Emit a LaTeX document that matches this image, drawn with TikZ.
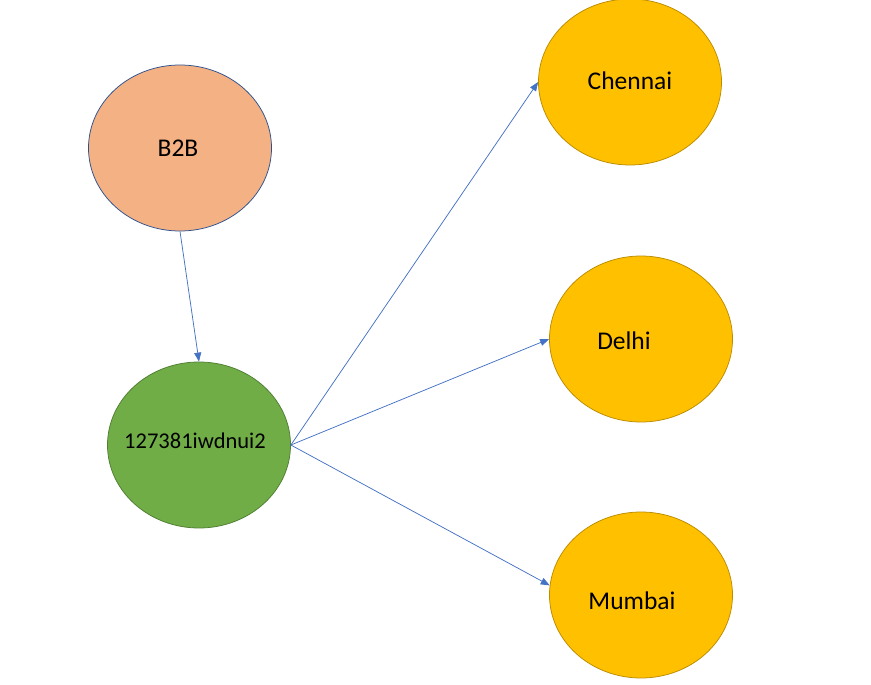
\documentclass[tikz,border=0pt]{standalone}
\usepackage{fontspec}
\setmainfont{Carlito}
\usetikzlibrary{shapes.geometric, arrows.meta}

\definecolor{salmon}{HTML}{F4B183}
\definecolor{salmonline}{HTML}{2F528F}
\definecolor{leaf}{HTML}{70AD47}
\definecolor{leafline}{HTML}{507E32}
\definecolor{gold}{HTML}{FFC000}
\definecolor{goldline}{HTML}{BC8C00}
\definecolor{wire}{HTML}{4472C4}

\begin{document}
\begin{tikzpicture}[x=1pt, y=-1pt]
    % Styles
    \tikzstyle{bubble} = [ellipse, line width=0.75pt, minimum width=183pt, minimum height=166pt, inner sep=0pt]
    \tikzstyle{city} = [bubble, draw=goldline, fill=gold]
    \tikzstyle{txt} = [font=\fontsize{25.5}{30}\selectfont, text=black]
    \tikzstyle{arrow} = [-{Triangle[length=9pt, width=7pt]}, draw=wire, line width=0.75pt]

    \useasboundingbox (0,0) rectangle (871,685);

    % Nodes
    \node[bubble, draw=salmonline, fill=salmon, label={[txt, xshift=-2pt]center:B2B}] (b2b) at (180,148) {};
    \node[bubble, draw=leafline, fill=leaf, label={[font=\fontsize{22.5}{27}\selectfont, xshift=-4pt, yshift=4pt]center:127381iwdnui2}] (id) at (199,445) {};
    \node[city, label={[txt, yshift=1pt]center:Chennai}] (chennai) at (630,82) {};
    \node[city, label={[txt, xshift=-17pt, yshift=-2pt]center:Delhi}] (delhi) at (641,339) {};
    \node[city, label={[txt, xshift=-9pt, yshift=-6pt]center:Mumbai}] (mumbai) at (641,595) {};

    % Arrows
    \draw[arrow] (b2b.south) -- (id.north);
    \draw[arrow] (id.east) -- (chennai.west);
    \draw[arrow] (id.east) -- (delhi.west);
    \draw[arrow] (id.east) -- (mumbai.174);
\end{tikzpicture}
\end{document}
